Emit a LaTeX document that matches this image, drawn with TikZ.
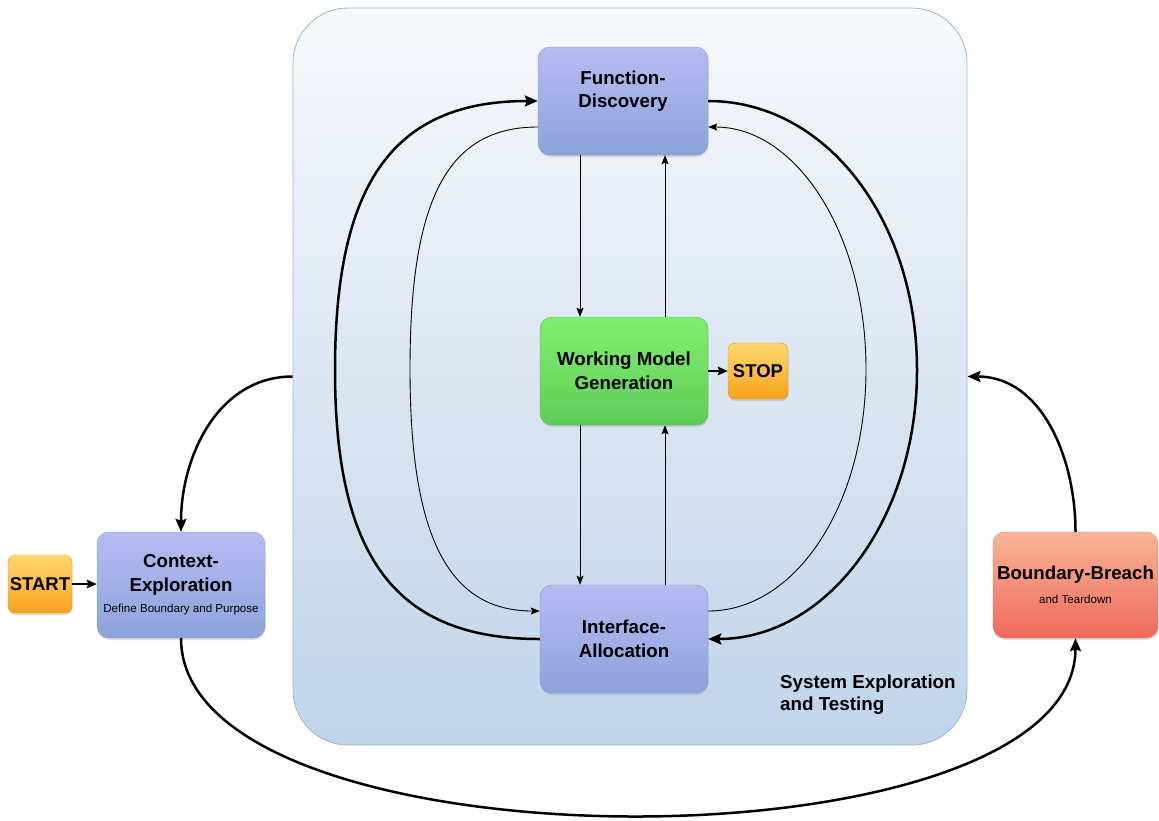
\documentclass[tikz,border=0pt]{standalone}
\usepackage{fontspec}
\setmainfont{Liberation Sans}
\usetikzlibrary{arrows.meta,shadows,calc}
\definecolor{bluetop}{HTML}{B6BBF2}
\definecolor{bluebot}{HTML}{8CA3DA}
\definecolor{bluebd}{HTML}{8494CC}
\definecolor{greentop}{HTML}{82EE70}
\definecolor{greenbot}{HTML}{5FCC58}
\definecolor{greenbd}{HTML}{58B254}
\definecolor{orangetop}{HTML}{FFD870}
\definecolor{orangebot}{HTML}{F7A21C}
\definecolor{orangebd}{HTML}{E0962C}
\definecolor{salmontop}{HTML}{F9B596}
\definecolor{salmonbot}{HTML}{EE6A5C}
\definecolor{salmonbd}{HTML}{DB7464}
\definecolor{systop}{HTML}{F7F9FC}
\definecolor{sysbot}{HTML}{C0D4EA}
\definecolor{sysbd}{HTML}{9DB4D6}
\newcommand{\subtext}{\fontsize{11.6}{13}\mdseries\selectfont}
\begin{document}
\begin{tikzpicture}[x=1pt,y=-1pt,
  proc/.style={rounded corners=12pt, inner sep=0pt, align=center,
    minimum width=168pt, minimum height=108pt,
    font=\fontsize{18.7}{23.5}\selectfont\bfseries,
    drop shadow={shadow xshift=0.6pt, shadow yshift=-2pt, opacity=0.25}},
  bluebox/.style={proc, draw=bluebd, top color=bluetop, bottom color=bluebot},
  greenbox/.style={proc, draw=greenbd, top color=greentop, bottom color=greenbot},
  redbox/.style={proc, draw=salmonbd, top color=salmontop, bottom color=salmonbot},
  termbox/.style={rounded corners=7pt, inner sep=0pt, align=center,
    draw=orangebd, top color=orangetop, bottom color=orangebot,
    font=\fontsize{18.5}{22}\selectfont\bfseries,
    drop shadow={shadow xshift=0.6pt, shadow yshift=-2pt, opacity=0.25}},
  sysbox/.style={rounded corners=55pt, draw=sysbd, line width=0.8pt,
    top color=systop, bottom color=sysbot, inner sep=0pt,
    minimum width=674pt, minimum height=737pt},
  thickarr/.style={line width=2.5pt, -{Stealth[length=13pt,width=11pt,inset=2pt]}},
  thinarr/.style={line width=0.9pt, -{Stealth[length=9pt,width=7pt,inset=1.5pt]}},
  medarr/.style={line width=2pt, -{Stealth[length=10pt,width=8.5pt,inset=1.5pt]}}
]
\useasboundingbox (0,0) rectangle (1159,820);

% container
\node[sysbox] (sys) at (630,376.5) {};
\node[anchor=north west, inner sep=0pt, align=left,
  font=\fontsize{18.8}{22}\selectfont\bfseries] (lbl) at (780,675)
  {System Exploration\\and Testing};

% nodes
\node[bluebox, minimum width=170pt] (fd) at (623,101) {Function-\\Discovery\\~};
\node[greenbox] (wm) at (624,371) {Working Model\\Generation};
\node[bluebox] (ia) at (624,639) {Interface-\\Allocation};
\node[bluebox, minimum height=106pt] (ctx) at (181,585)
  {Context-\\Exploration\\[-2pt]{\subtext Define Boundary and Purpose}};
\node[redbox, minimum width=165pt, minimum height=106pt] (bb) at (1075.5,585)
  {Boundary-Breach\\{\subtext and Teardown}};
\node[termbox, minimum width=64pt, minimum height=58pt] (start) at (40,584) {START};
\node[termbox, minimum width=60pt, minimum height=56pt] (stop) at (758,371) {STOP};

% loop waypoints
\coordinate (lt) at (335,370);
\coordinate (li) at (410,369);
\coordinate (rt) at (917,370);
\coordinate (ri) at (866,369);

% outer left: IA -> FD
\draw[thickarr] (ia.west) .. controls +(-143,0) and +(0,189) .. (lt)
  .. controls +(0,-189) and +(-143,0) .. (fd.west);
% inner left: FD -> IA
\draw[thinarr] ([yshift=-26pt]fd.west) .. controls +(-91,0) and +(0,-169) .. (li)
  .. controls +(0,169) and +(-91,0) .. ([yshift=28pt]ia.west);
% outer right: FD -> IA
\draw[thickarr] (fd.east) .. controls +(118,0) and +(0,-150) .. (rt)
  .. controls +(0,150) and +(118,0) .. (ia.east);
% inner right: IA -> FD
\draw[thinarr] ([yshift=28pt]ia.east) .. controls +(88,0) and +(0,135) .. (ri)
  .. controls +(0,-135) and +(88,0) .. ([yshift=-26pt]fd.east);

% verticals
\draw[thinarr] ([xshift=-43pt]fd.south) -- ([xshift=-44pt]wm.north);
\draw[thinarr] ([xshift=41pt]wm.north) -- ([xshift=42pt]fd.south);
\draw[thinarr] ([xshift=-44pt]wm.south) -- ([xshift=-44pt]ia.north);
\draw[thinarr] ([xshift=41pt]ia.north) -- ([xshift=41pt]wm.south);

% short arrows
\draw[medarr] (wm.east) -- (stop.west);
\draw[medarr] (start.east) -- (ctx.west |- start.east);

% outer connections
\draw[thickarr] (sys.west) to[out=180,in=90] (ctx.north);
\draw[thickarr] (bb.north) to[out=90,in=0] (sys.east);
\draw[thickarr] (ctx.south) .. controls +(0,236) and +(0,236) .. (bb.south);
\end{tikzpicture}
\end{document}
